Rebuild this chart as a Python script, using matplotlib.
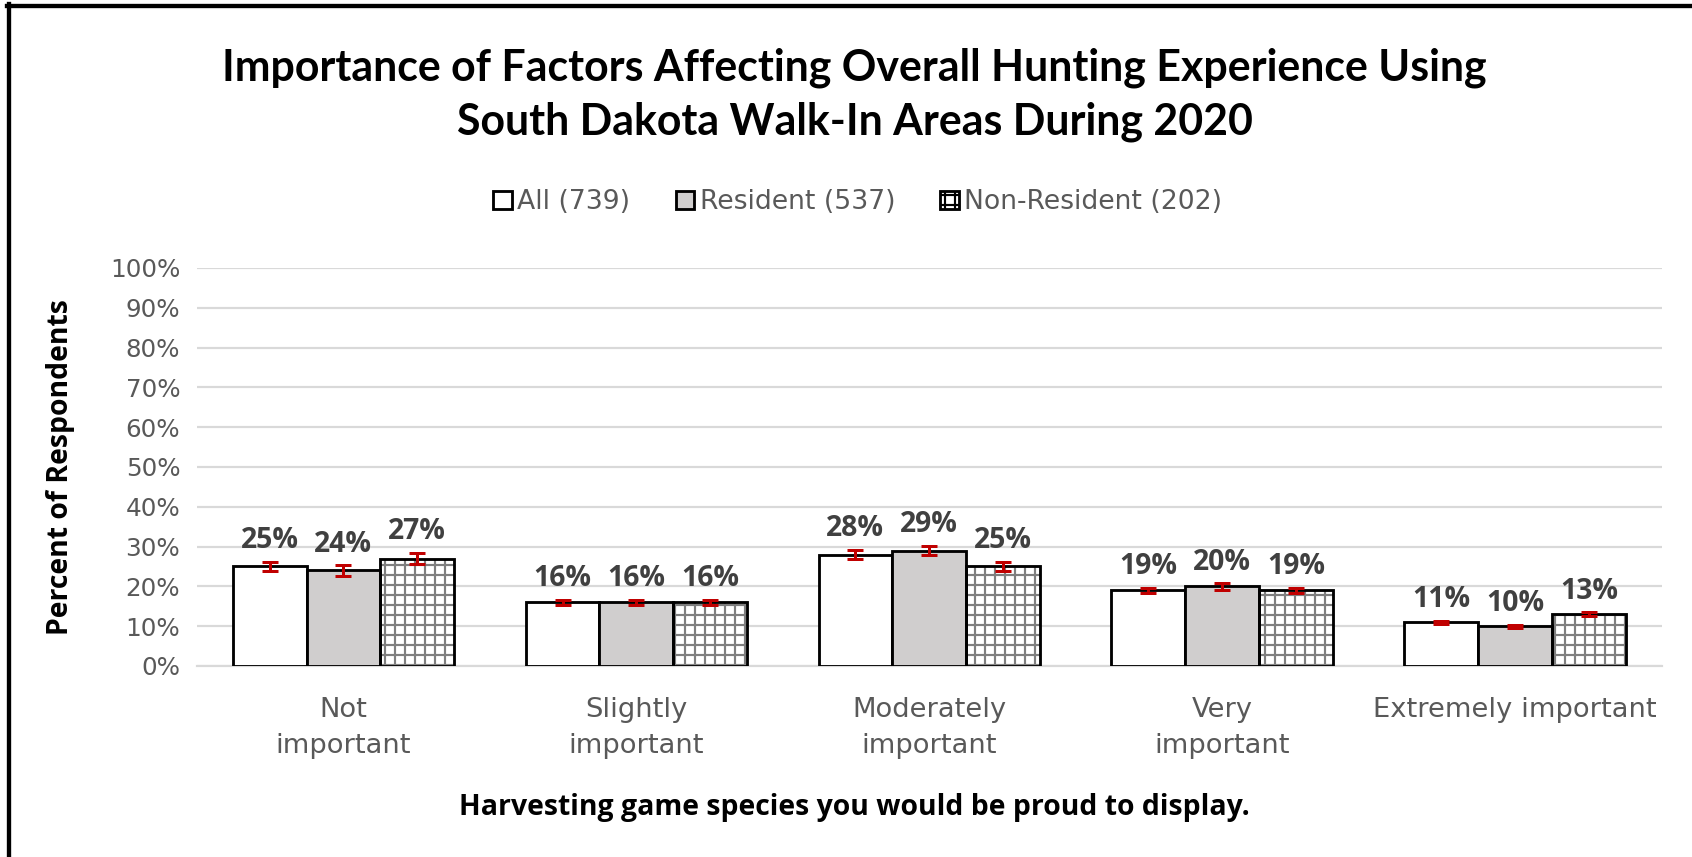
import matplotlib
matplotlib.use("Agg")
import matplotlib.pyplot as plt
import numpy as np
from matplotlib.lines import Line2D
from matplotlib.patches import Patch

categories = ["Not\nimportant", "Slightly\nimportant", "Moderately\nimportant", "Very\nimportant", "Extremely important"]
series_names = ["All (739)", "Resident (537)", "Non-Resident (202)"]
all_vals = [25, 16, 28, 19, 11]
res_vals = [24, 16, 29, 20, 10]
non_vals = [27, 16, 25, 19, 13]
all_err = [1.2, 0.6, 1.2, 0.7, 0.4]
res_err = [1.3, 0.6, 1.2, 0.8, 0.4]
non_err = [1.4, 0.7, 1.1, 0.7, 0.5]
yticks = [0, 10, 20, 30, 40, 50, 60, 70, 80, 90, 100]

plt.rcParams['font.family'] = ['DejaVu Sans']
plt.rcParams['hatch.linewidth'] = 1.3
plt.rcParams['hatch.color'] = '#7f7f7f'

GRAY_FONT = ['DejaVu Sans']
BOLD_FONT = ['Open Sans', 'DejaVu Sans']
TITLE_FONT = ['Lato', 'DejaVu Sans']

DPI = 120
fig = plt.figure(figsize=(1692 / DPI, 857 / DPI), dpi=DPI)
ax = fig.add_axes([0.1164, 0.2229, 0.982 - 0.1164, 0.6873 - 0.2229])

x = np.arange(len(categories))
w = 0.252
edge_lw = 1.7
series = [all_vals, res_vals, non_vals]
errs = [all_err, res_err, non_err]
fills = ['white', '#d0cece', 'white']
offsets = [-w, 0, w]

for i, (vals, err) in enumerate(zip(series, errs)):
    xs = x + offsets[i]
    if i == 2:
        ax.bar(xs, vals, w, color='white', edgecolor='#7f7f7f', linewidth=0, hatch='++', zorder=2)
        ax.bar(xs, vals, w, fill=False, edgecolor='black', linewidth=edge_lw, zorder=3)
    else:
        ax.bar(xs, vals, w, color=fills[i], edgecolor='black', linewidth=edge_lw, zorder=3)
    ax.errorbar(xs, vals, yerr=err, fmt='none', ecolor='#c00000', elinewidth=1.8,
                capsize=4.7, capthick=1.8, zorder=4)
    for xi, v, e in zip(xs, vals, err):
        ax.annotate(f"{v}%", (xi, v + e), xytext=(0, 4), textcoords='offset points',
                    ha='center', va='bottom', fontsize=17, fontweight='bold',
                    color='#404040', family=BOLD_FONT)

ax.set_xlim(-0.5, len(categories) - 0.5)
ax.set_ylim(0, 100)
ax.set_yticks(yticks)
ax.set_yticklabels([f"{t}%" for t in yticks], family=GRAY_FONT)
ax.set_xticks(x)
ax.set_xticklabels(categories, fontsize=16.4, color='#595959', linespacing=1.52, family=GRAY_FONT)
ax.tick_params(axis='y', labelsize=14.8, labelcolor='#595959', length=0, pad=10)
ax.tick_params(axis='x', length=0, pad=18.5)
ax.yaxis.grid(True, color='#d9d9d9', linewidth=1.3, zorder=0)
ax.set_axisbelow(True)
for s in ['top', 'right', 'left']:
    ax.spines[s].set_visible(False)
ax.spines['bottom'].set_color('#d9d9d9')
ax.spines['bottom'].set_linewidth(1.3)

ax.set_ylabel("Percent of Respondents", fontsize=17, fontweight='bold', color='black',
              family=BOLD_FONT)
ax.yaxis.set_label_coords(-0.083, 0.5)

fig.text(0.505, 0.921, "Importance of Factors Affecting Overall Hunting Experience Using",
         ha='center', va='center', fontsize=25.7, fontweight='bold', color='black',
         family=TITLE_FONT)
fig.text(0.505, 0.858, "South Dakota Walk-In Areas During 2020",
         ha='center', va='center', fontsize=25.7, fontweight='bold', color='black',
         family=TITLE_FONT)

fig.text(0.505, 0.058, "Harvesting game species you would be proud to display.",
         ha='center', va='center', fontsize=17, fontweight='bold', color='black',
         family=BOLD_FONT)

handles = [Patch(facecolor='white', edgecolor='black', linewidth=1.7),
           Patch(facecolor='#d0cece', edgecolor='black', linewidth=1.7),
           Patch(facecolor='white', edgecolor='black', linewidth=1.7, hatch='++')]
leg = fig.legend(handles, series_names, loc='center', bbox_to_anchor=(0.507, 0.764),
                 ncol=3, frameon=False, prop={'family': GRAY_FONT, 'size': 16},
                 handlelength=0.7, handleheight=0.7,
                 handletextpad=0.2, columnspacing=1.7)
for t in leg.get_texts():
    t.set_color('#595959')

fig.add_artist(Line2D([9 / 1692, 9 / 1692], [0, 1 - 4 / 857], transform=fig.transFigure,
                      color='black', linewidth=2.6))
fig.add_artist(Line2D([7 / 1692, 1], [1 - 6 / 857, 1 - 6 / 857], transform=fig.transFigure,
                      color='black', linewidth=2.6))

fig.savefig("out.png", dpi=DPI)
